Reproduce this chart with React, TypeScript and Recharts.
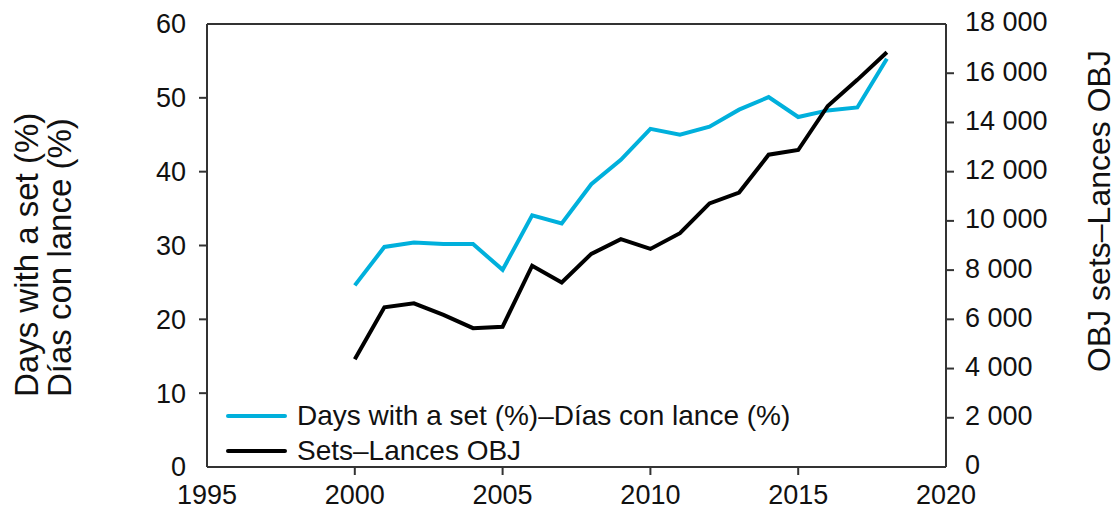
import { LineChart, Line, XAxis, YAxis, ReferenceLine, Legend, Label } from 'recharts'

// yearly values
const years = [2000, 2001, 2002, 2003, 2004, 2005, 2006, 2007, 2008, 2009, 2010, 2011, 2012, 2013, 2014, 2015, 2016, 2017, 2018]
const daysWithSet = [24.6, 29.8, 30.4, 30.2, 30.2, 26.7, 34.1, 33.0, 38.3, 41.6, 45.8, 45.0, 46.1, 48.4, 50.1, 47.4, 48.3, 48.7, 55.3]
const setsObj = [4380, 6490, 6650, 6180, 5640, 5700, 8180, 7500, 8660, 9260, 8860, 9500, 10710, 11150, 12690, 12880, 14670, 15730, 16850]

const xTicks = [1995, 2000, 2005, 2010, 2015, 2020]
const leftTicks = [0, 10, 20, 30, 40, 50, 60]
const rightTicks = [0, 2000, 4000, 6000, 8000, 10000, 12000, 14000, 16000, 18000]

const FONT = '"Liberation Sans", Arial, sans-serif'
const CYAN = '#00b0dc'
const FRAME = '#333'
const INK = '#111'

const data = years.map((year, i) => ({ year, days: daysWithSet[i], sets: setsObj[i] }))

function thousands(v: number) {
  if (v < 1000) return String(v)
  return `${Math.floor(v / 1000)} ${String(v % 1000).padStart(3, '0')}`
}

function LeftTick({ x, y, payload }: any) {
  const edge = payload.value === leftTicks[0] || payload.value === leftTicks[leftTicks.length - 1]
  return (
    <g>
      {!edge && <line x1={x - 8} x2={x} y1={y} y2={y} stroke={FRAME} strokeWidth={2} />}
      <text x={x - 21} y={y} dy="0.35em" textAnchor="end" fontSize={27} fontFamily={FONT} fill={INK}>
        {payload.value}
      </text>
    </g>
  )
}

function RightTick({ x, y, payload }: any) {
  const edge = payload.value === rightTicks[0] || payload.value === rightTicks[rightTicks.length - 1]
  return (
    <g>
      {!edge && <line x1={x} x2={x + 8} y1={y} y2={y} stroke={FRAME} strokeWidth={2} />}
      <text x={x + 19} y={y - 2} dy="0.35em" textAnchor="start" fontSize={27} fontFamily={FONT} fill={INK}>
        {thousands(payload.value)}
      </text>
    </g>
  )
}

function BottomTick({ x, y, payload }: any) {
  const edge = payload.value === xTicks[0] || payload.value === xTicks[xTicks.length - 1]
  return (
    <g>
      {!edge && <line x1={x} x2={x} y1={y} y2={y + 8} stroke={FRAME} strokeWidth={2} />}
      <text x={x} y={y + 37} textAnchor="middle" fontSize={27} fontFamily={FONT} fill={INK}>
        {payload.value}
      </text>
    </g>
  )
}

function LeftTitle({ viewBox }: any) {
  const bottom = viewBox.y + viewBox.height
  const lines = ['Days with a set (%)', 'Días con lance (%)']
  const offsets = [30, 63]
  return (
    <g>
      {lines.map((t, i) => {
        const tx = viewBox.x + offsets[i]
        const ty = bottom - 70
        return (
          <text key={t} x={tx} y={ty} transform={`rotate(-90 ${tx} ${ty})`} textAnchor="start" fontSize={33} fontFamily={FONT} fill={INK}>
            {t}
          </text>
        )
      })}
    </g>
  )
}

function RightTitle({ viewBox }: any) {
  const tx = viewBox.x + 164
  const ty = viewBox.y + viewBox.height - 95
  return (
    <text x={tx} y={ty} transform={`rotate(-90 ${tx} ${ty})`} textAnchor="start" fontSize={32} fontFamily={FONT} fill={INK}>
      OBJ sets–Lances OBJ
    </text>
  )
}

function LegendBox({ payload }: any) {
  return (
    <div style={{ fontFamily: FONT, fontSize: 28, color: INK }}>
      {(payload || []).map((p: any) => (
        <div key={p.value} style={{ display: 'flex', alignItems: 'center', height: 35, lineHeight: '35px', whiteSpace: 'nowrap' }}>
          <div style={{ width: 61, height: 4, background: p.color, marginRight: 10, borderRadius: 2 }} />
          <span>{p.value}</span>
        </div>
      ))}
    </div>
  )
}

export default function App() {
  return (
    <LineChart width={1111} height={504} data={data} margin={{ top: 16, right: 0, bottom: 0, left: 0 }}>
      <XAxis
        dataKey="year"
        type="number"
        domain={[1995, 2020]}
        ticks={xTicks}
        height={45}
        tickSize={0}
        tickMargin={0}
        tickLine={false}
        axisLine={{ stroke: FRAME, strokeWidth: 2 }}
        tick={<BottomTick />}
        interval={0}
      />
      <YAxis
        yAxisId="left"
        domain={[0, 60]}
        ticks={leftTicks}
        width={199}
        tickSize={0}
        tickMargin={0}
        tickLine={false}
        axisLine={{ stroke: FRAME, strokeWidth: 2 }}
        tick={<LeftTick />}
        interval={0}
      >
        <Label content={<LeftTitle />} />
      </YAxis>
      <YAxis
        yAxisId="right"
        orientation="right"
        domain={[0, 18000]}
        ticks={rightTicks}
        width={173}
        tickSize={0}
        tickMargin={0}
        tickLine={false}
        axisLine={{ stroke: FRAME, strokeWidth: 2 }}
        tick={<RightTick />}
        interval={0}
      >
        <Label content={<RightTitle />} />
      </YAxis>
      <ReferenceLine yAxisId="left" y={60} stroke={FRAME} strokeWidth={2} />
      <Line
        yAxisId="left"
        dataKey="days"
        name="Days with a set (%)–Días con lance (%)"
        stroke={CYAN}
        strokeWidth={4}
        dot={false}
        isAnimationActive={false}
      />
      <Line
        yAxisId="right"
        dataKey="sets"
        name="Sets–Lances OBJ"
        stroke="#000"
        strokeWidth={4}
        dot={false}
        isAnimationActive={false}
      />
      <Legend
        layout="horizontal"
        verticalAlign="middle"
        align="center"
        wrapperStyle={{ left: 218, top: 390, width: 640 }}
        content={<LegendBox />}
      />
    </LineChart>
  )
}
